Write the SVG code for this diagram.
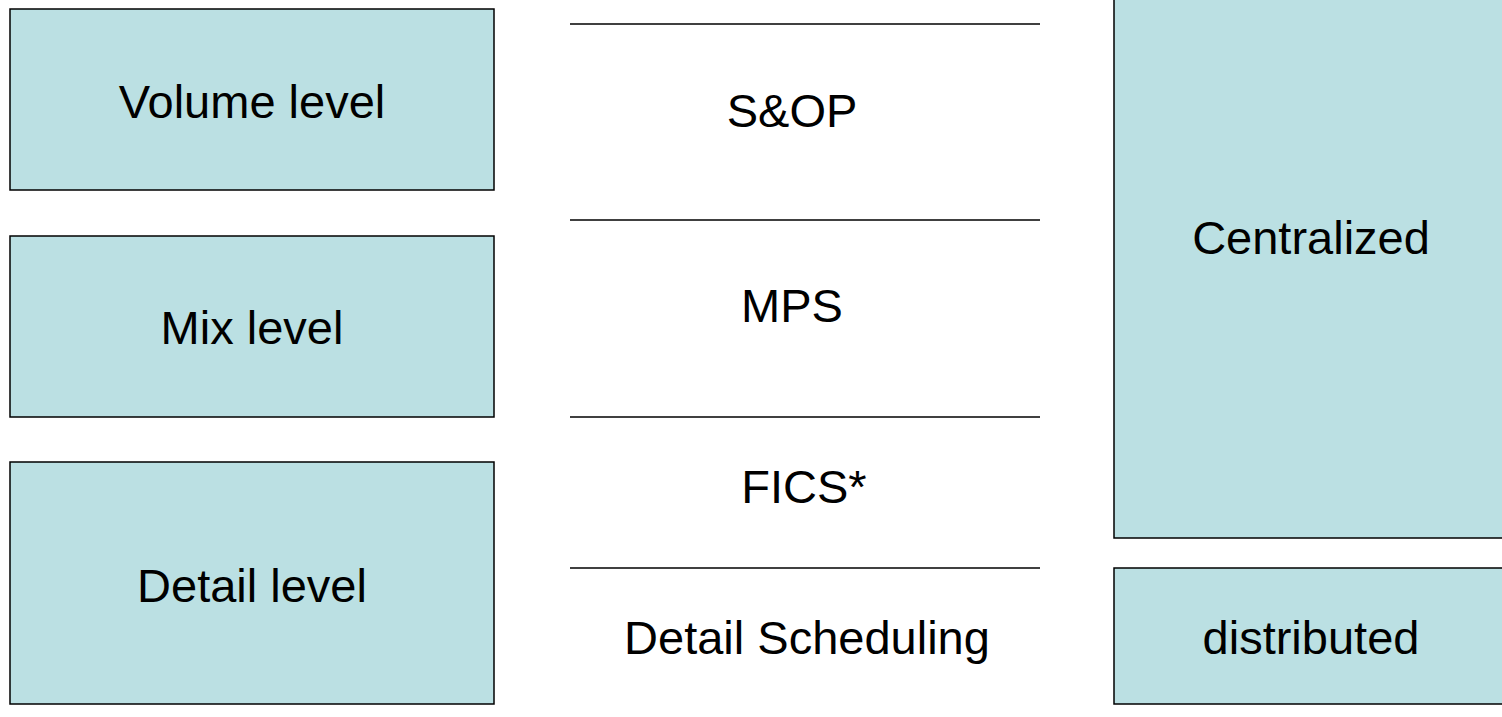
<svg xmlns="http://www.w3.org/2000/svg" width="1502" height="717" viewBox="0 0 1502 717">
<style>
.box{fill:#BBE0E3;stroke:#000;stroke-width:1.5}
.sep{stroke:#000;stroke-width:1.5}
text{font-family:"Liberation Sans",Arial,sans-serif;font-size:47px;fill:#000;text-anchor:middle}
</style>
<rect width="1502" height="717" fill="#fff"/>
<g id="volume"><rect class="box" x="10" y="9" width="484" height="181"/><text x="252" y="118">Volume level</text></g>
<g id="mix"><rect class="box" x="10" y="236" width="484" height="181"/><text x="252" y="344">Mix level</text></g>
<g id="detail"><rect class="box" x="10" y="462" width="484" height="242"/><text x="252" y="602">Detail level</text></g>
<g id="centralized"><rect class="box" x="1114" y="-2" width="394" height="540"/><text x="1311" y="254">Centralized</text></g>
<g id="distributed"><rect class="box" x="1114" y="568" width="394" height="136"/><text x="1311" y="654">distributed</text></g>
<g id="connectors">
<line class="sep" x1="570" y1="24" x2="1040" y2="24"/>
<line class="sep" x1="570" y1="220" x2="1040" y2="220"/>
<line class="sep" x1="570" y1="417" x2="1040" y2="417"/>
<line class="sep" x1="570" y1="568" x2="1040" y2="568"/>
</g>
<g id="sop"><text x="792" y="127">S&amp;OP</text></g>
<g id="mps"><text x="792" y="322">MPS</text></g>
<g id="fics"><text x="804" y="503">FICS*</text></g>
<g id="detailsched"><text x="807" y="654">Detail Scheduling</text></g>
</svg>
